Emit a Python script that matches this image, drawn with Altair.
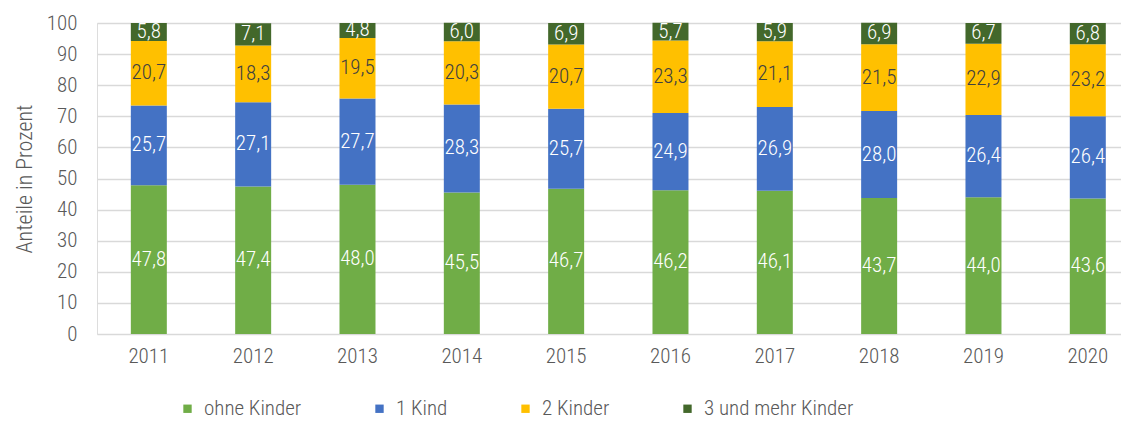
import altair as alt
import pandas as pd

years = ["2011", "2012", "2013", "2014", "2015", "2016", "2017", "2018", "2019", "2020"]
categories = ["ohne Kinder", "1 Kind", "2 Kinder", "3 und mehr Kinder"]
ohne = [47.8, 47.4, 48.0, 45.5, 46.7, 46.2, 46.1, 43.7, 44.0, 43.6]
ein = [25.7, 27.1, 27.7, 28.3, 25.7, 24.9, 26.9, 28.0, 26.4, 26.4]
zwei = [20.7, 18.3, 19.5, 20.3, 20.7, 23.3, 21.1, 21.5, 22.9, 23.2]
drei = [5.8, 7.1, 4.8, 6.0, 6.9, 5.7, 5.9, 6.9, 6.7, 6.8]
y_ticks = [0, 10, 20, 30, 40, 50, 60, 70, 80, 90, 100]
colors = ["#70AD47", "#4472C4", "#FFC000", "#43682B"]
label_colors = ["#FFFFFF", "#FFFFFF", "#404040", "#FFFFFF"]

FONT = "Roboto Condensed"

rows = []
for i, y in enumerate(years):
    for k, (cat, series) in enumerate(zip(categories, [ohne, ein, zwei, drei])):
        rows.append({
            "Jahr": y,
            "Kategorie": cat,
            "order": k,
            "Wert": series[i],
            "Label": f"{series[i]:.1f}".replace(".", ","),
            "LabelColor": label_colors[k],
        })
df = pd.DataFrame(rows)

x_axis = alt.Axis(labelAngle=0, labelFontSize=21, labelColor="#595959", labelFontWeight=300,
                  ticks=False, domain=False, labelPadding=11, labelFont=FONT)
x_scale = alt.Scale(paddingInner=0.655, paddingOuter=0.235, align=0.69)
y_axis = alt.Axis(values=y_ticks, labelFontSize=21, labelColor="#595959",
                  labelFontWeight=300,
                  titleFontSize=22, titleColor="#595959", titleFontWeight=300,
                  titleFont=FONT, labelFont=FONT,
                  ticks=False, domain=False, gridColor="#D9D9D9", gridWidth=1.5,
                  labelPadding=20, titlePadding=10)
y_scale = alt.Scale(domain=[0, 100], nice=False)

base = alt.Chart(df).transform_stack(
    stack="Wert", groupby=["Jahr"], sort=[alt.SortField("order")], as_=["y0", "y1"]
).transform_calculate(mid="(datum.y0 + datum.y1) / 2")

bars = base.mark_bar().encode(
    x=alt.X("Jahr:N", title=None, scale=x_scale, axis=x_axis),
    y=alt.Y("y0:Q", title="Anteile in Prozent", scale=y_scale, axis=y_axis),
    y2="y1:Q",
    color=alt.Color("Kategorie:N", scale=alt.Scale(domain=categories, range=colors),
                    sort=categories,
                    legend=alt.Legend(title=None, orient="none", legendX=80, legendY=375,
                                      direction="horizontal", columns=4, gridAlign="each",
                                      symbolType="square", symbolSize=70, symbolStrokeWidth=0,
                                      symbolOffset=0, labelOffset=6,
                                      labelFontSize=21, labelColor="#595959", labelFont=FONT,
                                      labelFontWeight=300, columnPadding=67)),
)

text = base.mark_text(fontSize=21, font=FONT, fontWeight=300, baseline="middle").encode(
    x=alt.X("Jahr:N", title=None, scale=x_scale, axis=x_axis),
    y=alt.Y("mid:Q", title="Anteile in Prozent", scale=y_scale, axis=y_axis),
    text="Label:N",
    color=alt.Color("LabelColor:N", scale=None),
)

chart = alt.layer(bars, text).properties(
    width=1024, height=311,
    padding={"top": 4, "left": 5, "right": 0, "bottom": 0},
).configure_view(stroke=None).configure(font=FONT)

chart.save("out.html", embed_options={"renderer": "svg", "actions": False})
